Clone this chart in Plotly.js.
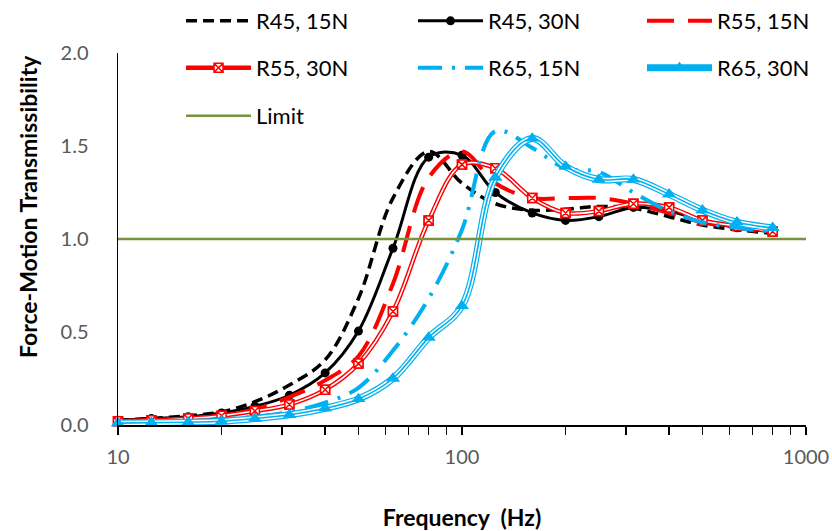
<!DOCTYPE html>
<html>
<head>
<meta charset="utf-8">
<script src="https://cdn.plot.ly/plotly-3.0.1.min.js"></script>
<style>html,body{margin:0;padding:0;background:#fff;}#chart{width:832px;height:531px;}</style>
</head>
<body>
<div id="chart"></div>
<script>
// ---- data ----
const freq = [10,12.5,16,20,25,31.5,40,50,63,80,100,125,160,200,250,315,400,500,630,800];
const r45_15N = [0.025,0.035,0.05,0.07,0.125,0.215,0.35,0.68,1.22,1.47,1.30,1.19,1.155,1.16,1.175,1.165,1.12,1.075,1.05,1.03];
const r45_30N = [0.025,0.035,0.045,0.065,0.10,0.16,0.28,0.505,0.95,1.44,1.45,1.25,1.14,1.10,1.12,1.17,1.15,1.10,1.06,1.04];
const r55_15N = [0.02,0.025,0.035,0.05,0.085,0.15,0.24,0.37,0.76,1.33,1.47,1.30,1.22,1.22,1.22,1.19,1.14,1.09,1.06,1.03];
const r55_30N = [0.02,0.025,0.035,0.05,0.075,0.11,0.19,0.33,0.61,1.10,1.40,1.38,1.22,1.14,1.15,1.19,1.17,1.10,1.07,1.04];
const r65_15N = [0.01,0.015,0.02,0.03,0.045,0.07,0.12,0.20,0.40,0.68,1.05,1.58,1.49,1.38,1.36,1.25,1.15,1.09,1.06,1.04];
const r65_30N = [0.01,0.012,0.015,0.02,0.035,0.055,0.09,0.14,0.25,0.47,0.64,1.33,1.54,1.39,1.32,1.32,1.24,1.155,1.09,1.06];
const limitX = [10, 1000];
const limitY = [1, 1];
const seriesNames = ["R45, 15N","R45, 30N","R55, 15N","R55, 30N","R65, 15N","R65, 30N","Limit"];
const xTickVals = [10, 100, 1000];
const xTickText = ["10", "100", "1000"];
const xMinorVals = [20,30,40,50,60,70,80,90,200,300,400,500,600,700,800,900];
const yTickVals = [0, 0.5, 1, 1.5, 2];
const yTickText = ["0.0", "0.5", "1.0", "1.5", "2.0"];
const xTitle = "Frequency\u00a0\u00a0(Hz)";
const yTitle = "Force-Motion Transmissibility";

const FONT = "Lato, 'Open Sans', sans-serif";
const BLACK = "#000000", RED = "#FF0000", BLUE = "#00B0F0", GREEN = "#77933C";

function tr(y, opts) {
  return Object.assign({x: freq, y: y, type: "scatter", mode: "lines",
    line: {shape: "spline"}, cliponaxis: false, showlegend: false, hoverinfo: "skip"}, opts);
}

const traces = [
  tr(r45_15N, {name: seriesNames[0], showlegend: true, legend: "legend",
    line: {shape: "spline", color: BLACK, width: 3.5, dash: "11px,6px"}}),
  tr(r45_30N, {name: seriesNames[1], showlegend: true, legend: "legend2", mode: "lines+markers",
    line: {shape: "spline", color: BLACK, width: 3},
    marker: {symbol: "circle", size: 9, color: BLACK}}),
  tr(r55_15N, {name: seriesNames[2], showlegend: true, legend: "legend3",
    line: {shape: "spline", color: RED, width: 4, dash: "27px,14px"}}),
  // R55, 30N : double red line
  tr(r55_30N, {name: seriesNames[3], showlegend: true, legend: "legend4", mode: "lines+markers",
    line: {shape: "spline", color: RED, width: 4.5},
    marker: {symbol: "square-x", size: 9, color: "#ffffff", line: {color: RED, width: 1.5}}}),
  tr(r55_30N, {name: seriesNames[3] + " inner", line: {shape: "spline", color: "#ffffff", width: 1.6}}),
  tr(r55_30N, {name: seriesNames[3] + " marks", mode: "markers",
    marker: {symbol: "square-x", size: 9, color: "#ffffff", line: {color: RED, width: 1.5}}}),
  tr(r65_15N, {name: seriesNames[4], showlegend: true, legend: "legend5",
    line: {shape: "spline", color: BLUE, width: 4, dash: "24px,10px,3px,10px"}}),
  // R65, 30N : triple blue line
  tr(r65_30N, {name: seriesNames[5], showlegend: true, legend: "legend6", mode: "lines+markers",
    line: {shape: "spline", color: BLUE, width: 7},
    marker: {symbol: "triangle-up", size: 12, color: BLUE}}),
  tr(r65_30N, {name: seriesNames[5] + " gap", line: {shape: "spline", color: "#ffffff", width: 4.6}}),
  tr(r65_30N, {name: seriesNames[5] + " core", line: {shape: "spline", color: BLUE, width: 1.6}}),
  tr(r65_30N, {name: seriesNames[5] + " marks", mode: "markers",
    marker: {symbol: "triangle-up", size: 12, color: BLUE}}),
  {x: limitX, y: limitY, type: "scatter", mode: "lines", name: seriesNames[6],
    showlegend: true, legend: "legend7", hoverinfo: "skip",
    line: {color: GREEN, width: 2.5}}
];

// legend layout: 3 columns x 3 rows, one single-entry legend per slot
const colX = [0.0916, 0.4288, 0.7616];
const rowY = [1.086, 0.960, 0.831];
function leg(col, row) {
  return {orientation: "v", x: colX[col], xanchor: "left", y: rowY[row], yanchor: "middle",
    bgcolor: "rgba(0,0,0,0)", borderwidth: 0,
    font: {family: FONT, size: 22, color: "#000000"},
    itemwidth: 65, traceorder: "normal"};
}

const layout = {
  width: 832, height: 531,
  margin: {l: 118, r: 26, t: 53, b: 106, autoexpand: false},
  paper_bgcolor: "#ffffff", plot_bgcolor: "#ffffff",
  font: {family: FONT, color: "#000000"},
  showlegend: true,
  legend: leg(0, 0), legend2: leg(1, 0), legend3: leg(2, 0),
  legend4: leg(0, 1), legend5: leg(1, 1), legend6: leg(2, 1),
  legend7: leg(0, 2),
  xaxis: {
    type: "log", range: [1, 3], autorange: false,
    tickvals: xTickVals, ticktext: xTickText,
    ticks: "outside", ticklen: 8, tickwidth: 1.3, tickcolor: "#000000",
    minor: {tickvals: xMinorVals, ticks: "outside", ticklen: 8, tickwidth: 1.3, tickcolor: "#000000", showgrid: false},
    showline: true, linecolor: "#000000", linewidth: 1.5,
    showgrid: false, zeroline: false,
    tickfont: {family: FONT, size: 20, color: "#595959"},
    ticklabelstandoff: 5,
    title: {text: xTitle, font: {family: FONT, size: 23, color: "#000000", weight: "bold"}, standoff: 46},
    automargin: false
  },
  yaxis: {
    range: [0, 2], autorange: false,
    tickvals: yTickVals, ticktext: yTickText,
    ticks: "", showline: true, linecolor: "#000000", linewidth: 1.5,
    showgrid: false, zeroline: false,
    tickfont: {family: FONT, size: 20, color: "#595959"},
    ticklabelstandoff: 24,
    automargin: false
  },
  annotations: [{
    text: yTitle, textangle: -90, showarrow: false,
    xref: "paper", yref: "paper", x: -0.1308, y: 0.586,
    xanchor: "center", yanchor: "middle",
    font: {family: FONT, size: 23, color: "#000000", weight: "bold"}
  }]
};

Plotly.newPlot("chart", traces, layout, {displayModeBar: false, staticPlot: true});
</script>
</body>
</html>
